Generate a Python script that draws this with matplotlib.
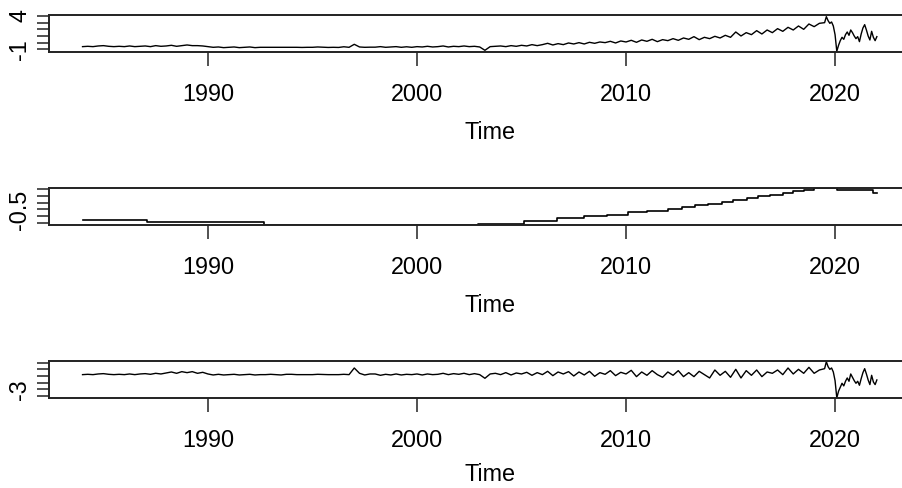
#!/usr/bin/env python3
# three stacked time-series panels (series / trend / remainder), R base-graphics look
import numpy as np
import matplotlib
matplotlib.use('Agg')
import matplotlib.pyplot as plt

plt.rcParams['font.family'] = ['Liberation Sans', 'DejaVu Sans']

# ---------------- Data ----------------
# quarterly 1984.00 .. 2019.25, then monthly 2019.50 .. 2022.00
t_quarter = np.arange(1984.0, 2019.5, 0.25)
t_month = 2019.5 + np.arange(31) / 12.0

obs_q = [
    -0.60, -0.55, -0.60, -0.50,   # 1984
    -0.45, -0.55, -0.60, -0.55,
    -0.60, -0.50, -0.60, -0.55,
    -0.50, -0.60, -0.45, -0.55,
    -0.50, -0.40, -0.55, -0.45,
    -0.35, -0.45, -0.45, -0.50,
    -0.60, -0.70, -0.65, -0.75,   # 1990
    -0.70, -0.65, -0.75, -0.70,
    -0.65, -0.75, -0.70, -0.70,
    -0.70, -0.70, -0.70, -0.70,
    -0.70, -0.70, -0.72, -0.70,
    -0.70, -0.65, -0.68, -0.72,
    -0.70, -0.72, -0.62, -0.70,
    -0.25, -0.65, -0.70, -0.68,
    -0.68, -0.60, -0.70, -0.65,
    -0.60, -0.70, -0.62, -0.70,
    -0.60, -0.65, -0.55, -0.65,   # 2000
    -0.60, -0.50, -0.65, -0.55,
    -0.60, -0.50, -0.60, -0.55,
    -0.65, -1.15, -0.60, -0.55,
    -0.50, -0.60, -0.45, -0.55,
    -0.40, -0.50, -0.30, -0.45,
    -0.30, -0.10, -0.35, -0.15,
    -0.30, -0.05, -0.20, 0.00,
    -0.20, 0.05, -0.10, 0.10,
    0.00, 0.20, -0.05, 0.25,
    0.10, 0.35, 0.05, 0.40,       # 2010
    0.20, 0.50, 0.15, 0.45,
    0.30, 0.60, 0.35, 0.70,
    0.50, 0.90, 0.45, 0.80,
    0.60, 0.95, 0.70, 1.10,
    0.80, 1.60, 1.00, 1.50,
    1.20, 1.80, 1.30, 1.90,
    1.50, 2.10, 1.70, 2.30,
    1.90, 2.50, 2.00, 2.80,
    2.40, 2.90,                   # 2019 H1
]
obs_m = [
    3.00, 3.90, 3.30, 2.90, 3.10, 2.50,
    1.20, -1.30, -0.40, 0.30, 0.80, 0.50,
    1.20, 1.60, 1.10, 1.90, 1.50, 1.00,
    0.60, 0.90, 0.15, 1.30, 2.20, 2.70,
    1.90, 1.00, 0.40, 1.70, 0.80, 0.30,
    0.90,
]

rem_q = [
    -0.80, -0.75, -0.80, -0.70,   # 1984
    -0.65, -0.75, -0.80, -0.75,
    -0.80, -0.70, -0.80, -0.70,
    -0.65, -0.75, -0.60, -0.70,
    -0.55, -0.40, -0.60, -0.35,
    -0.50, -0.35, -0.60, -0.45,
    -0.70, -0.85, -0.75, -0.85,   # 1990
    -0.80, -0.75, -0.85, -0.80,
    -0.75, -0.85, -0.80, -0.80,
    -0.75, -0.80, -0.85, -0.75,
    -0.75, -0.80, -0.80, -0.80,
    -0.80, -0.75, -0.78, -0.80,
    -0.80, -0.80, -0.75, -0.80,
    0.20, -0.60, -0.85, -0.70,
    -0.70, -0.90, -0.75, -0.85,
    -0.70, -0.85, -0.75, -0.80,
    -0.70, -0.85, -0.70, -0.80,   # 2000
    -0.75, -0.60, -0.80, -0.65,
    -0.75, -0.60, -0.80, -0.65,
    -0.80, -1.35, -0.70, -0.60,
    -0.80, -0.50, -0.85, -0.55,
    -0.70, -0.45, -0.90, -0.50,
    -0.80, -0.30, -0.95, -0.40,
    -0.70, -0.35, -1.00, -0.40,
    -0.85, -0.30, -1.05, -0.50,
    -0.75, -0.20, -0.95, -0.45,
    -0.70, -0.15, -1.10, -0.40,   # 2010
    -0.90, -0.20, -0.80, -1.20,
    -0.40, -0.90, -0.20, -1.10,
    -0.50, -1.10, -0.30, -0.80,
    -1.30, -0.10, -0.90, -0.30,
    -1.20, 0.00, -1.30, -0.20,
    -0.90, -0.10, -1.10, -0.40,
    -0.60, -0.10, -0.80, 0.20,
    -0.70, 0.00, -0.60, 0.30,
    -0.60, -0.10,                 # 2019 H1
]
rem_m = [
    0.10, 1.15, 0.40, 0.00, 0.20, -0.40,
    -1.70, -4.30, -3.30, -2.70, -2.10, -2.50,
    -1.80, -1.30, -1.80, -0.70, -1.20, -1.70,
    -2.10, -1.80, -2.40, -1.40, -0.50, 0.10,
    -0.70, -1.60, -2.30, -0.90, -1.90, -2.30,
    -1.60,
]

# trend is a step series: level holds from each break year to the next
trend_time = [1984.0, 1987.1, 1992.7, 2002.9, 2005.1, 2006.7, 2008.0, 2009.1,
              2010.1, 2011.0, 2012.0, 2012.7, 2013.3, 2013.9, 2014.6, 2015.1,
              2015.8, 2016.3, 2016.9, 2017.5, 2018.0, 2018.5, 2019.0, 2020.1,
              2021.8, 2022.0]
trend_val = [-1.32, -1.47, -1.65, -1.57, -1.35, -1.14, -1.02, -0.89,
             -0.71, -0.59, -0.44, -0.32, -0.19, -0.07, 0.06, 0.19,
             0.34, 0.49, 0.61, 0.74, 0.86, 0.96, 1.08, 0.94,
             0.74, 0.74]

x_ticks = [1990, 2000, 2010, 2020]
x_labels = ['1990', '2000', '2010', '2020']

obs_yticks = [-1, 0, 1, 2, 3, 4]
obs_ylabels = ['-1', '', '', '', '', '4']
trend_yticks = [-1.5, -1.0, -0.5, 0.0, 0.5, 1.0]
trend_ylabels = ['', '', '-0.5', '', '', '']
rem_yticks = [-4, -3, -2, -1, 0, 1]
rem_ylabels = ['', '-3', '', '', '', '']

time = np.concatenate([t_quarter, t_month])
obs = np.array(obs_q + obs_m)
rem = np.array(rem_q + rem_m)

# ---------------- Layout ----------------
W, H = 902, 488
FS = 16.8
X_LO, X_HI = 1982.41, 2024.59

fig = plt.figure(figsize=(W / 100, H / 100), dpi=100)
fig.patch.set_facecolor('white')

def px_axes(top, bottom, left=49.3, right=931):
    return fig.add_axes([left / W, 1 - bottom / H, (right - left) / W, (bottom - top) / H])

def style(ax, yticks, ylabels, ylim, xpad=11):
    ax.set_xlim(X_LO, X_HI)
    ax.set_ylim(*ylim)
    ax.set_xticks(x_ticks)
    ax.set_xticklabels(x_labels, fontsize=FS)
    ax.set_yticks(yticks)
    ax.set_yticklabels(ylabels, rotation=90, va='center', fontsize=FS)
    ax.tick_params(axis='x', length=10, width=1.1, pad=12, color='#222')
    ax.tick_params(axis='y', length=9, width=1.1, pad=4, color='#222')
    ax.set_xlabel('Time', fontsize=FS, labelpad=xpad)
    for s in ax.spines.values():
        s.set_linewidth(1.4)
        s.set_color('#222')

ax1 = px_axes(15, 52.3)
ax1.plot(time, obs, color='black', lw=1.0)
style(ax1, obs_yticks, obs_ylabels, (-1.45, 4.15))

ax2 = px_axes(188, 225.3)
ax2.plot(trend_time, trend_val, color='black', lw=1.2, drawstyle='steps-post')
style(ax2, trend_yticks, trend_ylabels, (-1.69, 1.11))

ax3 = px_axes(360.7, 398.2)
ax3.plot(time, rem, color='black', lw=1.0)
# bottom label nudged up a touch so it stays inside the canvas
style(ax3, rem_yticks, rem_ylabels, (-4.35, 1.3), xpad=8)

fig.savefig('out.png', dpi=100)
